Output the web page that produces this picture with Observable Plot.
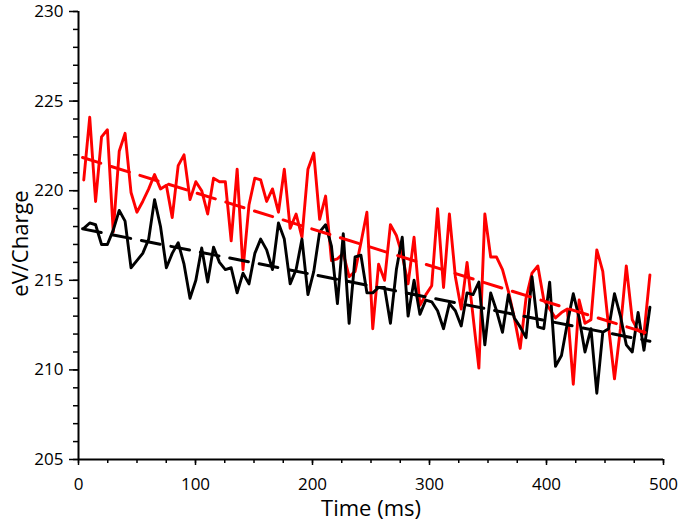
<!DOCTYPE html>
<html><head><meta charset="utf-8">
<script src="https://cdn.jsdelivr.net/npm/d3@7"></script>
<script src="https://cdn.jsdelivr.net/npm/@observablehq/plot@0.6"></script>
<style>html,body{margin:0;padding:0;background:#fff} svg{display:block}</style>
</head><body><div id="chart"></div>
<script>
// sample times (ms)
const times = [4.5,9.6,14.6,19.7,24.7,29.7,34.8,39.8,44.9,49.9,
  54.9,60.0,65.0,70.1,75.1,80.1,85.2,90.2,95.3,100.3,
  105.3,110.4,115.4,120.5,125.5,130.5,135.6,140.6,145.7,150.7,
  155.7,160.8,165.8,170.9,175.9,180.9,186.0,191.0,196.1,201.1,
  206.1,211.2,216.2,221.3,226.3,231.3,236.4,241.4,246.5,251.5,
  256.5,261.6,266.6,271.7,276.7,281.7,286.8,291.8,296.9,301.9,
  306.9,312.0,317.0,322.1,327.1,332.1,337.2,342.2,347.3,352.3,
  357.3,362.4,367.4,372.5,377.5,382.5,387.6,392.6,397.7,402.7,
  407.7,412.8,417.8,422.9,427.9,432.9,438.0,443.0,448.1,453.1,
  458.1,463.2,468.2,473.3,478.3,483.3,488.4];

const redValues = [220.6,224.1,219.4,223.0,223.4,217.7,222.2,223.2,219.9,218.8,
  219.4,220.1,220.9,220.1,220.3,218.5,221.4,222.0,219.5,220.5,
  220.0,218.7,220.7,220.5,220.5,217.2,221.2,215.6,219.2,220.7,
  220.6,219.4,220.1,218.8,221.2,217.9,218.7,217.4,221.2,222.1,
  218.4,219.7,216.1,216.2,216.5,215.2,215.5,217.1,218.8,212.3,
  215.9,215.0,218.1,217.5,216.4,214.8,217.4,213.6,214.2,214.7,
  219.0,214.6,218.7,215.2,213.4,216.0,213.0,210.1,218.7,216.3,
  216.3,215.6,214.4,212.9,211.2,214.0,215.4,215.8,213.9,213.4,
  212.9,213.2,213.4,209.2,213.9,212.6,212.8,216.7,215.5,212.4,
  209.5,212.3,215.8,212.8,212.2,212.0,215.3];

const blackValues = [217.9,218.2,218.1,217.0,217.0,217.8,218.9,218.3,215.7,216.1,
  216.5,217.3,219.5,218.0,215.7,216.5,217.1,215.9,214.0,215.0,
  216.8,214.9,216.85,216.0,215.6,215.7,214.3,215.4,214.8,216.5,
  217.3,216.7,215.6,218.2,217.3,214.8,215.6,217.3,214.2,215.5,
  217.7,218.1,216.9,213.7,217.6,212.6,216.3,216.4,214.3,214.3,
  214.6,214.6,212.6,215.6,217.4,213.0,215.0,213.1,213.9,213.8,
  213.3,212.3,213.7,213.3,212.45,214.3,214.2,214.9,211.4,214.3,
  213.3,212.1,214.2,212.9,212.4,211.8,215.2,212.4,212.3,214.9,
  210.2,210.8,212.6,214.25,212.9,211.0,212.3,208.7,212.1,212.3,
  214.25,213.0,211.4,211.0,213.2,211.1,213.5];

// dashed trend lines (end points)
const fitTimes = [3.5, 488.4];
const redFitValues = [221.85, 212.0];
const blackFitValues = [217.87, 211.6];

const yMajorTicks = [205,210,215,220,225,230];
const yMinorTicks = [205,206,207,208,209,210,211,212,213,214,215,216,217,218,219,220,221,222,223,224,225,226,227,228,229,230];
const xMajorTicks = [0,100,200,300,400,500];
const xMinorTicks = [0,25,50,75,100,125,150,175,200,225,250,275,300,325,350,375,400,425,450,475,500];

const red = times.map((t,i)=>({t, v: redValues[i]}));
const black = times.map((t,i)=>({t, v: blackValues[i]}));
const redFit = fitTimes.map((t,i)=>({t, v: redFitValues[i]}));
const blackFit = fitTimes.map((t,i)=>({t, v: blackFitValues[i]}));

const font = "'Open Sans', sans-serif";
const chart = Plot.plot({
  width: 685, height: 521,
  marginLeft: 78, marginRight: 22, marginTop: 11, marginBottom: 62,
  style: {fontFamily: font, fontSize: "17px", color: "#000", background: "#fff"},
  x: {domain: [0, 500]},
  y: {domain: [205, 230]},
  marks: [
    Plot.axisY(yMinorTicks, {tickSize: 5, text: null, label: null, strokeWidth: 1.5}),
    Plot.axisY(yMajorTicks, {tickSize: 9, tickPadding: 6, label: null, strokeWidth: 1.5, fontSize: 17}),
    Plot.axisX(xMinorTicks, {tickSize: 4, text: null, label: null, strokeWidth: 1.5}),
    Plot.axisX(xMajorTicks, {tickSize: 6, tickPadding: 12, label: null, strokeWidth: 1.5, fontSize: 17}),
    Plot.ruleX([0], {strokeWidth: 2, stroke: "#000"}),
    Plot.ruleY([205], {strokeWidth: 2, stroke: "#000"}),
    Plot.line(red, {x: "t", y: "v", stroke: "#ff0000", strokeWidth: 2.9}),
    Plot.line(black, {x: "t", y: "v", stroke: "#000000", strokeWidth: 2.9}),
    Plot.line(redFit, {x: "t", y: "v", stroke: "#ff0000", strokeWidth: 3, strokeDasharray: "19,11"}),
    Plot.line(blackFit, {x: "t", y: "v", stroke: "#000000", strokeWidth: 3, strokeDasharray: "19,11"}),
    Plot.text(["eV/Charge"], {frameAnchor: "left", dx: -58, dy: 8, rotate: -90, textAnchor: "middle", lineAnchor: "middle", fontSize: 22}),
    Plot.text(["Time (ms)"], {frameAnchor: "bottom", dy: 49, textAnchor: "middle", lineAnchor: "middle", fontSize: 22})
  ]
});
document.getElementById("chart").append(chart);
</script>
</body></html>
